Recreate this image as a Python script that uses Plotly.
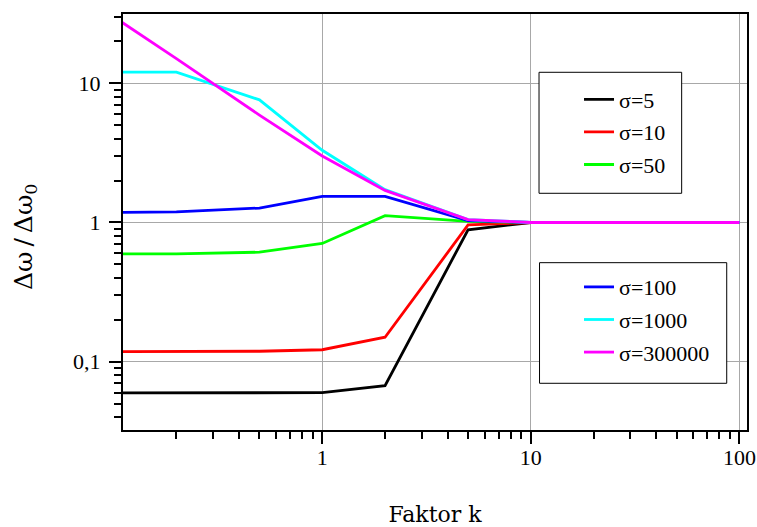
import plotly.graph_objects as go

k = [0.1, 0.2, 0.5, 1, 2, 5, 10, 100]
s5 = [0.0597, 0.0597, 0.0597, 0.060, 0.0674, 0.887, 1.0, 1.0]
s10 = [0.118, 0.118, 0.119, 0.122, 0.150, 0.96, 1.0, 1.0]
s50 = [0.596, 0.596, 0.612, 0.707, 1.12, 1.02, 1.0, 1.0]
s100 = [1.18, 1.19, 1.27, 1.54, 1.54, 1.03, 1.0, 1.0]
s1000 = [12.0, 12.0, 7.6, 3.3, 1.72, 1.05, 1.0, 1.0]
s300000 = [30.0, 15.0, 5.9, 3.0, 1.7, 1.05, 1.0, 1.0]

names = ["σ=5", "σ=10", "σ=50", "σ=100", "σ=1000", "σ=300000"]
series = [s5, s10, s50, s100, s1000, s300000]
colors = ["#000000", "#FF0000", "#00FF00", "#0000FF", "#00FFFF", "#FF00FF"]
legends = ["legend", "legend", "legend", "legend2", "legend2", "legend2"]

y_tickvals = [0.1, 1, 10]
y_ticktext = ["0,1", "1", "10"]
x_tickvals = [1, 10, 100]
x_ticktext = ["1", "10", "100"]

TICKFONT = "Liberation Serif"
TITLEFONT = "DejaVu Serif"

fig = go.Figure()
for n, s, c, lg in zip(names, series, colors, legends):
    fig.add_trace(go.Scatter(x=k, y=s, mode="lines", name=n, legend=lg,
                             legendgroup=n,
                             line=dict(color=c, width=2.8)))

y_minor = [m * 10 ** e for e in (-2, -1, 0, 1) for m in range(2, 10)]
x_minor = [m * 10 ** e for e in (-1, 0, 1) for m in range(2, 10)]

axis_common = dict(
    showline=True, linecolor="black", linewidth=2, mirror=True,
    showgrid=True, gridcolor="#A8A8A8", gridwidth=1,
    ticks="outside", ticklen=12, tickwidth=2, tickcolor="black",
    tickfont=dict(family=TICKFONT, size=22, color="black"),
    zeroline=False, automargin=False,
)

fig.update_xaxes(type="log", range=[-0.955, 2.036],
                 tickmode="array", tickvals=x_tickvals, ticktext=x_ticktext,
                 ticklabelstandoff=-5,
                 minor=dict(tickmode="array", tickvals=x_minor, ticks="outside",
                            ticklen=7, tickwidth=2, tickcolor="black", showgrid=False),
                 title=dict(text="Faktor k", font=dict(family=TITLEFONT, size=22, color="black"),
                            standoff=38),
                 **axis_common)
fig.update_yaxes(type="log", range=[-1.49, 1.497],
                 tickmode="array", tickvals=y_tickvals, ticktext=y_ticktext,
                 ticklabelstandoff=4,
                 minor=dict(tickmode="array", tickvals=y_minor, ticks="outside",
                            ticklen=7, tickwidth=2, tickcolor="black", showgrid=False),
                 **axis_common)

leg_common = dict(
    bgcolor="rgba(0,0,0,0)", borderwidth=0,
    font=dict(family=TICKFONT, size=22, color="black"),
    xanchor="left", yanchor="top", tracegroupgap=1,
    traceorder="grouped",
)

box_style = dict(type="rect", xref="paper", yref="paper", layer="above",
                 line=dict(color="black", width=1), fillcolor="white")

fig.update_layout(
    width=757, height=527,
    margin=dict(l=123, r=10, t=14, b=97),
    paper_bgcolor="white", plot_bgcolor="white",
    font=dict(family=TICKFONT, color="black"),
    separators=",.",
    showlegend=True,
    legend=dict(x=0.7308, y=0.845, **leg_common),
    legend2=dict(x=0.7308, y=0.394, **leg_common),
    shapes=[
        dict(x0=0.6667, x1=0.8953, y0=0.569, y1=0.8599, **box_style),
        dict(x0=0.6675, x1=0.9675, y0=0.1123, y1=0.4022, **box_style),
    ],
    annotations=[
        dict(text="Δω\u2009/\u2009Δω<sub>0</sub>", xref="paper", yref="paper",
             x=-0.157, y=0.464, xanchor="center", yanchor="middle",
             textangle=-90, showarrow=False,
             font=dict(family=TITLEFONT, size=25, color="black")),
    ],
)

fig.write_html("out.html", post_script="document.body.style.margin='0';",
               config={"displayModeBar": False})
